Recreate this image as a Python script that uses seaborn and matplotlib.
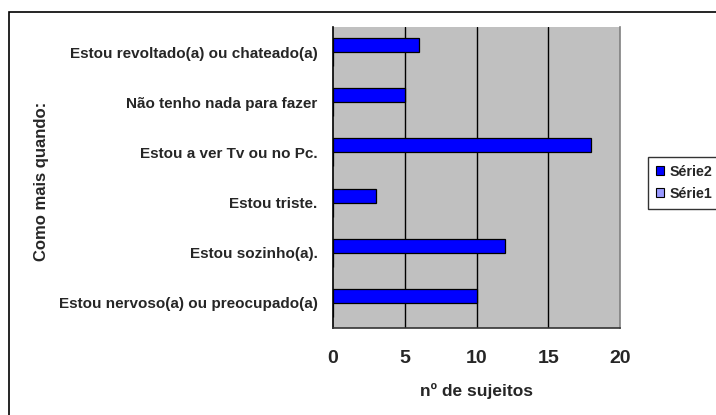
import matplotlib
matplotlib.use("Agg")
import matplotlib.pyplot as plt
from matplotlib.patches import Rectangle, Patch
import seaborn as sns
import pandas as pd

categories = ["Estou revoltado(a) ou chateado(a)", "Não tenho nada para fazer",
              "Estou a ver Tv ou no Pc.", "Estou triste.", "Estou sozinho(a).",
              "Estou nervoso(a) ou preocupado(a)"]
serie2 = [6, 5, 18, 3, 12, 10]
serie1 = [0, 0, 0, 0, 0, 0]
series_names = ["Série2", "Série1"]
xticks = [0, 5, 10, 15, 20]

sns.set_style("white")
plt.rcParams["font.family"] = ["Liberation Sans", "DejaVu Sans"]

df = pd.DataFrame({
    "cat": categories * 2,
    "valor": serie2 + serie1,
    "serie": [series_names[0]] * len(categories) + [series_names[1]] * len(categories),
})

W, H = 716, 415
fig = plt.figure(figsize=(W / 100, H / 100), dpi=100)
fig.patch.set_facecolor("white")
ax = fig.add_axes([333 / W, 1 - 328 / H, (620 - 333) / W, (328 - 27) / H])
ax.set_facecolor("#C0C0C0")

palette = {"Série2": "#0000FF", "Série1": "#9999FF"}
sns.barplot(data=df, x="valor", y="cat", hue="serie", hue_order=series_names,
            order=categories, palette=palette, width=0.56, edgecolor="black",
            linewidth=0.9, orient="h", ax=ax, legend=False, saturation=1)

ax.set_xlim(0, 20)
ax.set_ylim(len(categories) - 0.5, -0.5)
ax.set_xticks(xticks)
ax.set_xticklabels([str(t) for t in xticks], fontsize=14, fontweight="bold")
ax.tick_params(axis="x", direction="out", length=4, width=1, color="black", pad=12)
ax.tick_params(axis="y", which="major", length=0, pad=11)
ax.set_yticks([i - 0.5 for i in range(len(categories) + 1)], minor=True)
ax.tick_params(axis="y", which="minor", direction="out", length=4, width=1, color="black")
for lab in ax.get_yticklabels():
    lab.set_fontsize(11)
    lab.set_fontweight("bold")
ax.set_xlabel("")
ax.set_ylabel("")
for x in xticks[1:-1]:
    ax.axvline(x, color="black", lw=1, zorder=0.5)
ax.set_axisbelow(True)

ax.spines["left"].set_color("black")
ax.spines["left"].set_linewidth(1.2)
ax.spines["bottom"].set_color("#333333")
ax.spines["bottom"].set_linewidth(1.2)
ax.spines["right"].set_color("#808080")
ax.spines["right"].set_linewidth(1.2)
ax.spines["top"].set_visible(False)

fig.text(41.5 / W, 1 - 181 / H, "Como mais quando:", rotation=90, ha="center", va="center",
         fontsize=12, fontweight="bold")
fig.text(476 / W, 1 - 391 / H, "nº de sujeitos", ha="center", va="center",
         fontsize=12.5, fontweight="bold")

handles = [Patch(facecolor=palette[n], edgecolor="black", linewidth=0.8) for n in series_names]
leg = fig.legend(handles, series_names, loc="upper left",
                 bbox_to_anchor=(648 / W, 1 - 157 / H), borderaxespad=0,
                 frameon=True, fancybox=False, handlelength=0.6, handleheight=0.6,
                 handletextpad=0.35, labelspacing=0.55, borderpad=0.55,
                 prop={"size": 10.3, "weight": "bold"})
leg.get_frame().set_edgecolor("black")
leg.get_frame().set_linewidth(1)

fig.patches.append(Rectangle((9 / W, -0.1), 1.2, 1.1 - 12 / H, transform=fig.transFigure,
                             fill=False, edgecolor="black", linewidth=1.2))

fig.savefig("out.png", dpi=100)
